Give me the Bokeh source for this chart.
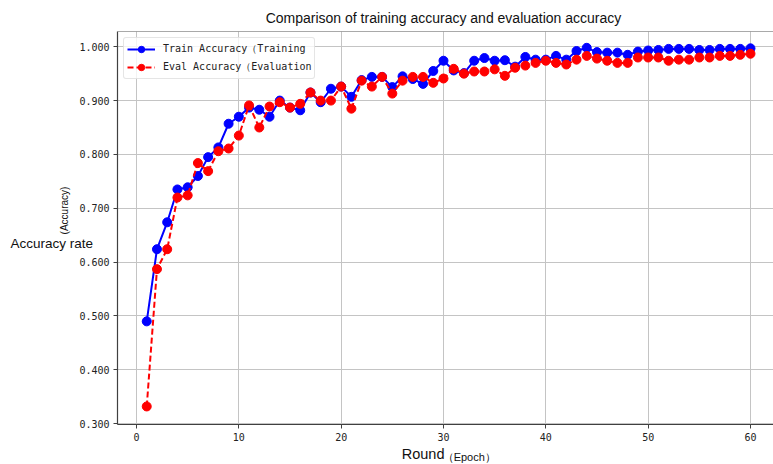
import math
from bokeh.plotting import figure
from bokeh.models import Label, Span, Range1d, NumeralTickFormatter, FixedTicker
from bokeh.embed import file_html
from bokeh.resources import INLINE

epochs = list(range(1, 61))
train_acc = [0.490, 0.624, 0.674, 0.735, 0.739, 0.760, 0.795, 0.813, 0.857, 0.870,
             0.887, 0.883, 0.870, 0.900, 0.887, 0.882, 0.915, 0.897, 0.922, 0.926,
             0.907, 0.938, 0.944, 0.944, 0.925, 0.945, 0.940, 0.931, 0.955, 0.974,
             0.956, 0.951, 0.974, 0.979, 0.974, 0.975, 0.963, 0.981, 0.976, 0.976,
             0.983, 0.976, 0.992, 0.998, 0.990, 0.989, 0.989, 0.985, 0.991, 0.993,
             0.994, 0.996, 0.996, 0.996, 0.994, 0.994, 0.996, 0.996, 0.996, 0.997]
eval_acc = [0.332, 0.587, 0.624, 0.720, 0.724, 0.784, 0.769, 0.806, 0.811, 0.835,
            0.891, 0.850, 0.889, 0.897, 0.887, 0.894, 0.915, 0.900, 0.900, 0.926,
            0.885, 0.937, 0.926, 0.944, 0.913, 0.937, 0.944, 0.944, 0.933, 0.941,
            0.959, 0.950, 0.954, 0.954, 0.958, 0.946, 0.961, 0.965, 0.970, 0.974,
            0.970, 0.967, 0.976, 0.983, 0.978, 0.974, 0.970, 0.970, 0.980, 0.980,
            0.980, 0.974, 0.976, 0.976, 0.980, 0.980, 0.983, 0.983, 0.985, 0.987]
x_ticks = [0, 10, 20, 30, 40, 50, 60]
y_ticks = [0.3, 0.4, 0.5, 0.6, 0.7, 0.8, 0.9, 1.0]

title_text = "Comparison of training accuracy and evaluation accuracy"
train_label = "Train Accuracy（Training"
eval_label = "Eval Accuracy（Evaluation"
ylabel_main = "Accuracy rate"
ylabel_sub = "(Accuracy)"
xlabel_main = "Round"
xlabel_sub = "（Epoch）"

# Texts live in side panels (not clipped); each panel has its own origin.
FONT = "Liberation Sans"
EM = 1.117                      # line height of the font, in em
Y_AXIS_W = 40.0                 # estimated width of the y-axis panel
X_AXIS_H = 20.0                 # estimated height of the x-axis panel
t_size, yl_size, r_size, s_size, e_size = 14, 13.5, 14.5, 10, 11
h_title = t_size * EM
h_ylab = yl_size * EM

FL, FB = 117, 424                       # frame left / bottom on the page
FT = max(28.0, h_title + h_ylab)        # frame top (panels may push it down)
PX_PER_UNIT = 538.9                     # vertical scale of the reference
y_start = 0.2985
y_end = y_start + (FB - FT) / PX_PER_UNIT

p = figure(width=773, height=464, output_backend="svg", toolbar_location=None,
           title=None,
           x_range=Range1d(-1.857, 62.25), y_range=Range1d(y_start, y_end),
           min_border_left=FL, min_border_right=0, min_border_top=28,
           min_border_bottom=464 - FB)
p.background_fill_color = "white"
p.border_fill_color = "white"
p.outline_line_color = None

for ax in (p.xaxis[0], p.yaxis[0]):
    ax.axis_line_color = "#404040"
    ax.axis_line_width = 1.2
    ax.major_tick_line_color = "#404040"
    ax.major_tick_out = 4
    ax.major_tick_in = 0
    ax.minor_tick_line_color = None
    ax.major_label_text_font = "DejaVu Sans Mono"
    ax.major_label_text_font_size = "10px"
    ax.major_label_text_color = "#222222"
    ax.major_label_standoff = 4

p.xaxis.ticker = FixedTicker(ticks=x_ticks)
p.yaxis.ticker = FixedTicker(ticks=y_ticks)
p.yaxis.formatter = NumeralTickFormatter(format="0.000")

p.xgrid.ticker = FixedTicker(ticks=x_ticks)
p.ygrid.ticker = FixedTicker(ticks=y_ticks)
p.grid.grid_line_color = "#c4c4c4"
p.grid.grid_line_width = 1

p.add_layout(Span(location=y_end, dimension="width", line_color="#555555", line_width=1.2))

p.line(epochs, train_acc, line_color="blue", line_width=2, legend_label=train_label)
p.scatter(epochs, train_acc, size=9, fill_color="blue", line_color="blue",
          legend_label=train_label)
p.line(epochs, eval_acc, line_color="red", line_width=2, line_dash="6 3",
       legend_label=eval_label)
p.scatter(epochs, eval_acc, size=9, fill_color="red", line_color="red",
          legend_label=eval_label)

lg = p.legend[0]
lg.location = "top_left"
lg.margin = 6
lg.padding = 3
lg.spacing = 2
lg.glyph_height = 16
lg.label_height = 16
lg.glyph_width = 28
lg.label_standoff = 8
lg.label_text_font = "DejaVu Sans Mono"
lg.label_text_font_size = "10px"
lg.label_text_color = "#222222"
lg.border_line_color = "#cccccc"
lg.border_line_width = 1
lg.background_fill_alpha = 0.8
lg.border_radius = 3

def mk(text, x, y, size, align="left", angle=0.0):
    return Label(x=x, y=y, x_units="screen", y_units="screen",
                 text=text, text_font=FONT, text_font_size=f"{size}px",
                 text_align=align, text_baseline="middle", angle=angle,
                 text_color="#111111")

# above: title (nearest frame), then "Accuracy rate"
p.add_layout(mk(title_text, 443 - FL, FT - 17, t_size, align="center"), "above")
p.add_layout(mk(ylabel_main, 10 - FL, (FT - h_title) - 243, yl_size), "above")

# below: x axis, then "Round"
round_bottom = FB + X_AXIS_H + r_size * EM
p.add_layout(mk(xlabel_main, 444 - FL, round_bottom - 455, r_size, align="right"), "below")

# left: y axis, then "(Accuracy)" (rotated), then "（Epoch）"
sub_left = FL - Y_AXIS_W - s_size * EM
p.add_layout(mk(ylabel_sub, 65 - sub_left, FB - 210, s_size, align="center",
                angle=math.pi / 2), "left")
w_epoch = 53.0
epoch_left = sub_left - w_epoch
p.add_layout(mk(xlabel_sub, 443 - epoch_left, FB - 456, e_size), "left")

open("out.html", "w").write(file_html(p, INLINE))
